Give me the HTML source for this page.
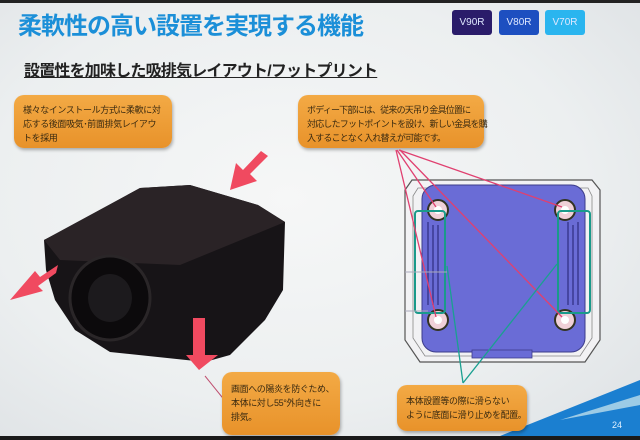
<!DOCTYPE html>
<html><head><meta charset="utf-8"><style>
body{margin:0;width:640px;height:440px;overflow:hidden;background:#e9ecee;font-family:"Liberation Sans","Noto Sans CJK JP",sans-serif;}
.a{position:absolute}
.box{position:absolute;background:linear-gradient(#f3aa45,#e8922a);border-radius:10px;color:#3a2a10;font-size:9px;line-height:14px;letter-spacing:-0.4px;white-space:nowrap;box-shadow:1px 2px 3px rgba(0,0,0,.3);padding:6px 0 0 9px;box-sizing:border-box}
.btn{position:absolute;top:10px;width:40px;height:25px;border-radius:3px;color:#dfe8ff;font-size:10px;line-height:25px;text-align:center}
</style></head><body>
<div class="a" style="left:0;top:0;width:640px;height:440px;background:radial-gradient(ellipse at 45% 45%,#f6f7f7 0%,#eceff0 60%,#dde1e4 100%)"></div>
<div class="a" style="left:0;top:0;width:640px;height:3px;background:#222"></div>
<div class="a" style="left:0;top:436px;width:640px;height:4px;background:#1a1a1a"></div>
<div class="a" style="left:18px;top:6px;font-size:24px;font-weight:bold;color:#1b8fd8;letter-spacing:-1px">柔軟性の高い設置を実現する機能</div>
<div class="btn" style="left:452px;background:#2a1c6a">V90R</div>
<div class="btn" style="left:499px;background:#1d4fc0">V80R</div>
<div class="btn" style="left:545px;background:#2ab5ef">V70R</div>
<div class="a" style="left:24px;top:57px;font-size:16px;font-weight:bold;color:#222;text-decoration:underline;letter-spacing:-0.8px">設置性を加味した吸排気レイアウト/フットプリント</div>
<div class="box" style="left:14px;top:95px;width:158px;height:53px;padding-top:8px">様々なインストール方式に柔軟に対<br>応する後面吸気･前面排気レイアウ<br>トを採用</div>
<div class="box" style="left:298px;top:95px;width:186px;height:53px;padding-top:8px;letter-spacing:-0.8px">ボディー下部には、従来の天吊り金具位置に<br>対応したフットポイントを設け、新しい金具を購<br>入することなく入れ替えが可能です。</div>
<svg class="a" style="left:0;top:0" width="640" height="440">
<polygon points="500,436 640,380 640,436" fill="#1b7fd0"/>
<polygon points="560,420 640,395 640,405" fill="#9ccbe6"/>
<text x="612" y="428" font-size="9" fill="#e0f0ff" font-family="Liberation Sans">24</text>
<polygon points="44,240 60,232 140,188 190,185 258,205 285,222 283,290 265,320 230,355 205,362 110,352 75,330 55,300 46,270" fill="#171417"/>
<polygon points="44,240 140,188 190,185 258,205 285,222 180,265 60,260" fill="#2a2326"/>
<ellipse cx="110" cy="298" rx="40" ry="42" fill="#0c0a0c" stroke="#2a2628" stroke-width="3"/>
<ellipse cx="110" cy="298" rx="22" ry="24" fill="#1c1a1d"/>
<polygon points="268,156 250,174 257,181 230,190 236,163 243,170 261,151" fill="#f04a60"/>
<polygon points="58,265 40,277 35,271 10,300 43,291 38,286 56,273" fill="#f04a60"/>
<polygon points="193,318 205,318 205,355 218,355 199,370 186,355 193,355" fill="#f04a60"/>
<line x1="205" y1="376" x2="226" y2="402" stroke="#c05070" stroke-width="1"/>
<path d="M412,180 L592,180 L600,190 L600,340 L585,362 L420,362 L405,340 L405,190 Z" fill="#f2f2f4" stroke="#555" stroke-width="1.2"/>
<path d="M418,188 L588,188 L592,196 L592,338 L580,356 L425,356 L413,338 L413,196 Z" fill="none" stroke="#888" stroke-width="0.8"/>
<rect x="422" y="185" width="163" height="167" rx="14" fill="#6a6cd6" stroke="#3c3c8a" stroke-width="1"/>
<rect x="472" y="350" width="60" height="8" fill="#6a6cd6" stroke="#3c3c8a" stroke-width="0.8"/>
<g stroke="#3a3a90" stroke-width="1.5">
<line x1="428" y1="222" x2="428" y2="305"/><line x1="433" y1="225" x2="433" y2="305"/><line x1="438" y1="225" x2="438" y2="305"/>
<line x1="568" y1="222" x2="568" y2="305"/><line x1="573" y1="225" x2="573" y2="305"/><line x1="578" y1="222" x2="578" y2="305"/>
</g>
<g fill="#f0d0d8" stroke="#332" stroke-width="2">
<circle cx="438" cy="210" r="10"/><circle cx="565" cy="210" r="10"/><circle cx="438" cy="320" r="10"/><circle cx="565" cy="320" r="10"/></g>
<g fill="#fff"><circle cx="438" cy="210" r="4"/><circle cx="565" cy="210" r="4"/><circle cx="438" cy="320" r="4"/><circle cx="565" cy="320" r="4"/></g>
<g fill="none" stroke="#1a9a8a" stroke-width="2">
<rect x="415" y="211" width="30" height="102" rx="3"/><rect x="558" y="211" width="32" height="102" rx="3"/></g>
<g stroke="#e04070" stroke-width="1.3">
<line x1="397" y1="150" x2="436" y2="207"/><line x1="399" y1="150" x2="562" y2="207"/>
<line x1="396" y1="150" x2="436" y2="317"/><line x1="400" y1="150" x2="562" y2="317"/></g>
<g stroke="#1aa090" stroke-width="1.3"><line x1="463" y1="383" x2="447" y2="266"/><line x1="463" y1="383" x2="557" y2="264"/></g>
<line x1="405" y1="272" x2="447" y2="272" stroke="#aab" stroke-width="1"/>
<line x1="405" y1="311" x2="428" y2="311" stroke="#aab" stroke-width="1"/>
</svg>
<div class="box" style="left:222px;top:372px;width:118px;height:63px;padding-top:10px">画面への陽炎を防ぐため、<br>本体に対し55°外向きに<br>排気。</div>
<div class="box" style="left:397px;top:385px;width:130px;height:46px;padding-top:9px">本体設置等の際に滑らない<br>ように底面に滑り止めを配置。</div>
</body></html>
